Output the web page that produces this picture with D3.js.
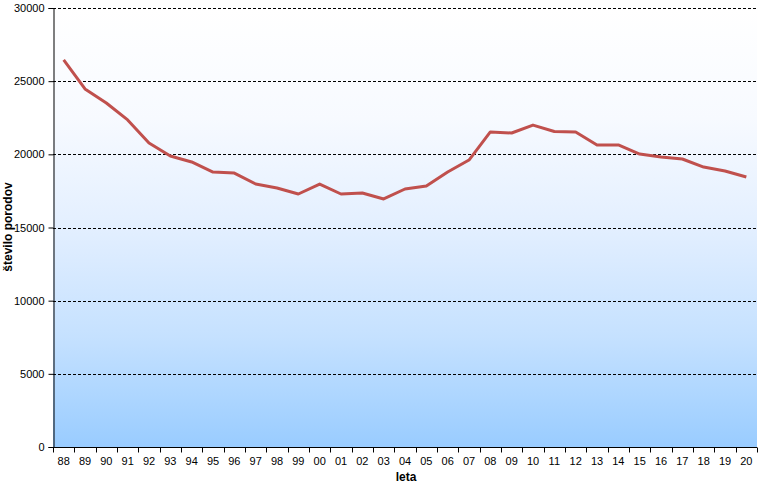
<!DOCTYPE html>
<html><head><meta charset="utf-8">
<script src="https://cdn.jsdelivr.net/npm/d3@7"></script>
<style>body{margin:0;background:#fff;}svg{display:block;font-family:"Liberation Sans",Arial,sans-serif;}</style>
</head><body><svg id="c" width="763" height="490"></svg>
<script>
const years = ["88","89","90","91","92","93","94","95","96","97","98","99","00","01","02","03","04","05","06","07","08","09","10","11","12","13","14","15","16","17","18","19","20"];
const births = [26450,24470,23510,22350,20770,19890,19480,18790,18720,17970,17700,17290,17970,17290,17360,16950,17630,17840,18790,19610,21530,21460,22000,21560,21530,20640,20640,20020,19820,19680,19130,18860,18450];
const yTicks = [0,5000,10000,15000,20000,25000,30000];

const svg = d3.select("#c");
const m = {l:53, r:6, t:8, b:43};
const W = 763, H = 490;
const x = d3.scaleBand().domain(years).range([m.l, W - m.r]);
const y = d3.scaleLinear().domain([0,30000]).range([H - m.b, m.t]);

const defs = svg.append("defs");
const g = defs.append("linearGradient").attr("id","bg").attr("x1",0).attr("y1",0).attr("x2",0).attr("y2",1);
[[0,"#ffffff"],[0.25,"#f7faff"],[0.5,"#e3efff"],[0.75,"#c5e1ff"],[1,"#99ccff"]].forEach(s =>
  g.append("stop").attr("offset", s[0]).attr("stop-color", s[1]));

svg.append("rect").attr("x", m.l).attr("y", m.t).attr("width", W - m.r - m.l).attr("height", H - m.b - m.t).attr("fill","url(#bg)");

// grid
svg.append("g").selectAll("line").data(yTicks.filter(d => d > 0)).join("line")
  .attr("x1", m.l).attr("x2", W - m.r)
  .attr("y1", d => Math.round(y(d)) + 0.5).attr("y2", d => Math.round(y(d)) + 0.5)
  .attr("stroke","#000").attr("stroke-width",1).attr("stroke-dasharray","3,2");

// y axis
const ya = svg.append("g").attr("transform", `translate(${m.l + 0.5},0)`)
  .call(d3.axisLeft(y).tickValues(yTicks).tickSize(5).tickPadding(4).tickFormat(d3.format("d")));
ya.select(".domain").attr("stroke","#000");
ya.selectAll("text").attr("font-size", 11).attr("fill","#000").attr("font-family","Liberation Sans, Arial, sans-serif");

// x axis with ticks at band boundaries
const xa = svg.append("g").attr("transform", `translate(0,${Math.round(y(0)) + 0.5})`);
xa.append("line").attr("x1", m.l).attr("x2", W - m.r).attr("stroke","#000");
const bounds = years.map(d => x(d)).concat([x(years[years.length-1]) + x.bandwidth()]);
xa.selectAll("line.t").data(bounds).join("line").attr("class","t")
  .attr("x1", d => Math.round(d) + 0.5).attr("x2", d => Math.round(d) + 0.5)
  .attr("y1", 0).attr("y2", 5).attr("stroke","#000");
xa.selectAll("text").data(years).join("text")
  .attr("x", d => x(d) + x.bandwidth()/2).attr("y", 17)
  .attr("text-anchor","middle").attr("font-size", 11).attr("fill","#000").text(d => d);

// line
const line = d3.line().x((d,i) => x(years[i]) + x.bandwidth()/2).y(d => y(d));
svg.append("path").datum(births).attr("d", line)
  .attr("fill","none").attr("stroke","#c0504d").attr("stroke-width",3).attr("stroke-linejoin","round");

// titles
svg.append("text").attr("x", 406).attr("y", 481).attr("text-anchor","middle")
  .attr("font-size", 12).attr("font-weight","bold").text("leta");
svg.append("text").attr("transform", "translate(12,227) rotate(-90)").attr("text-anchor","middle")
  .attr("font-size", 12).attr("font-weight","bold").text("število porodov");
</script></body></html>
